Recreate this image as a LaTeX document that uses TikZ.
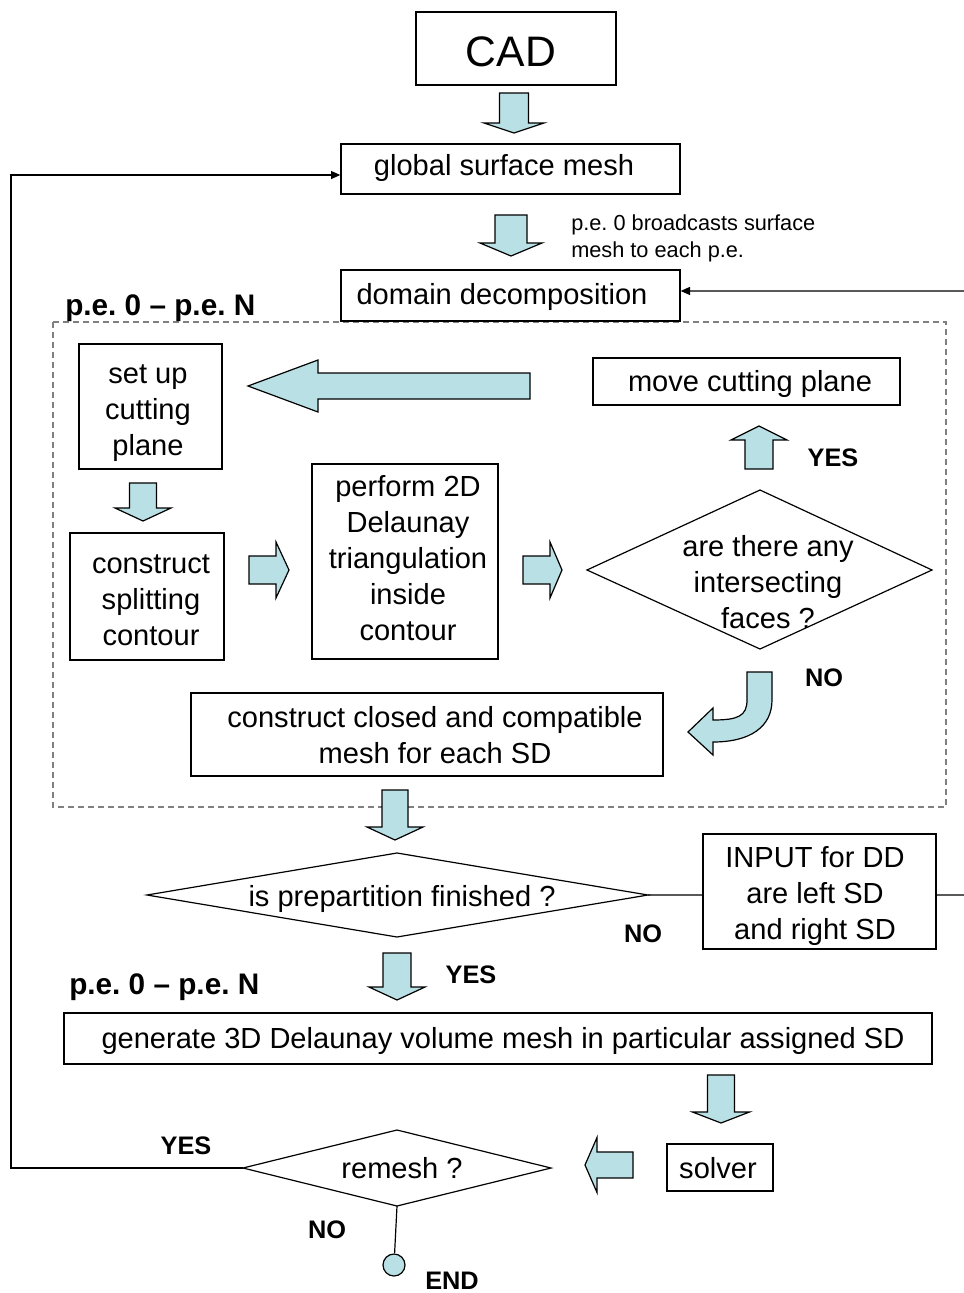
\documentclass[tikz,border=0pt]{standalone}
\usepackage{fontspec}
\setmainfont{Liberation Sans}
\usetikzlibrary{arrows.meta}
\definecolor{ablue}{RGB}{185,224,228}
\frenchspacing
\tikzset{
  box/.style={draw=black, line width=1pt, inner sep=0pt},
  txt/.style={inner sep=0pt, align=center, font=\fontsize{21.8}{27}\selectfont},
  lbl/.style={inner sep=0pt, font=\bfseries\fontsize{19}{22}\selectfont},
  pelbl/.style={inner sep=0pt, anchor=west, font=\bfseries\fontsize{22.3}{25}\selectfont},
  blk/.style={draw=black, line width=0.9pt, fill=ablue, line join=miter},
  fb/.style={draw=black, line width=0.9pt},
  tipa/.style={-{Triangle[length=7pt,width=6pt]}},
  dia/.style={draw=black, line width=0.9pt},
}
% down arrow: cx, top, base, tip, shaft half, head half
\newcommand\DArr[6]{\draw[blk] (#1-#5,#2) -- (#1+#5,#2) -- (#1+#5,#3) -- (#1+#6,#3) -- (#1,#4) -- (#1-#6,#3) -- (#1-#5,#3) -- cycle;}
% horizontal arrow: cy, start, base, tip, shaft half, head half
\newcommand\HArr[6]{\draw[blk] (#2,#1-#5) -- (#3,#1-#5) -- (#3,#1-#6) -- (#4,#1) -- (#3,#1+#6) -- (#3,#1+#5) -- (#2,#1+#5) -- cycle;}
\begin{document}
\begin{tikzpicture}[x=0.75pt,y=-0.75pt]
\useasboundingbox (0,0) rectangle (964,1293);

% dashed region
\draw[gray, line width=0.9pt, dash pattern=on 4.5pt off 3pt] (53,322) rectangle (946,807);

% boxes
\node[box, minimum width=150pt, minimum height=54.75pt] (cad) at (516,48.5) {};
\node[txt, font=\fontsize{32}{38}\selectfont] (cadt) at (511,52) {CAD};
\node[box, minimum width=254.25pt, minimum height=37.5pt] (gsm) at (510.5,169) {};
\node[txt] (gsmt) at (504,168) {global surface mesh};
\node[box, minimum width=254.25pt, minimum height=38.25pt] (dd) at (510.5,295.5) {};
\node[txt] (ddt) at (502,297) {domain decomposition};
\node[box, minimum width=107.25pt, minimum height=93.75pt] (setup) at (150.5,406.5) {};
\node[txt] (setupt) at (148,413) {set up\\cutting\\plane};
\node[box, minimum width=230.25pt, minimum height=35.25pt] (move) at (746.5,381.5) {};
\node[txt] (movet) at (750,384) {move cutting plane};
\node[box, minimum width=115.5pt, minimum height=95.25pt] (split) at (147,596.5) {};
\node[txt] (splitt) at (151,600.5) {construct\\splitting\\contour};
\node[box, minimum width=139.5pt, minimum height=146.25pt] (perf) at (405,561.5) {};
\node[txt] (perft) at (408,558.5) {perform 2D\\Delaunay\\triangulation\\inside\\contour};
\node[box, minimum width=354pt, minimum height=62.25pt] (closed) at (427,734.5) {};
\node[txt] (closedt) at (435,735) {construct closed and compatible\\mesh for each SD};
\node[box, minimum width=174.75pt, minimum height=86.25pt] (inp) at (819.5,891.5) {};
\node[txt] (inpt) at (815,896) {INPUT for DD\\are left SD\\and right SD};
\node[box, minimum width=651pt, minimum height=38.25pt] (gen) at (498,1038.5) {};
\node[txt] (gent) at (503,1041) {generate 3D Delaunay volume mesh in particular assigned SD};
\node[box, minimum width=79.5pt, minimum height=35.25pt] (solver) at (720,1167.5) {};
\node[txt] (solvert) at (718,1168.5) {solver};

% diamonds
\coordinate (q1l) at (587,570); \coordinate (q1t) at (760,490); \coordinate (q1r) at (932,570); \coordinate (q1b) at (760,649);
\draw[dia] (q1l) -- (q1t) -- (q1r) -- (q1b) -- cycle;
\node[txt] (q1) at (768,582) {are there any\\intersecting\\faces ?};

\coordinate (q2l) at (147,895); \coordinate (q2t) at (397,853); \coordinate (q2r) at (648,895); \coordinate (q2b) at (397,937);
\draw[dia] (q2l) -- (q2t) -- (q2r) -- (q2b) -- cycle;
\node[txt] (q2) at (402,899) {is prepartition finished ?};

\coordinate (q3l) at (243,1168); \coordinate (q3t) at (397,1130); \coordinate (q3r) at (551,1168); \coordinate (q3b) at (397,1206);
\draw[dia] (q3l) -- (q3t) -- (q3r) -- (q3b) -- cycle;
\node[txt] (q3) at (402,1168.5) {remesh ?};

% end circle
\node[circle, draw=black, line width=0.9pt, fill=ablue, minimum size=16.5pt, inner sep=0pt] (endc) at (394,1265) {};
\draw[fb] (q3b) -- (endc);

% texts
\node[inner sep=0pt, anchor=west, align=left, font=\fontsize{16.3}{20.5}\selectfont] (bc) at (571,238.5) {p.e. 0 broadcasts surface\\mesh to each p.e.};
\node[pelbl] (pe1) at (65,308) {p.e. 0 -- p.e. N};
\node[pelbl] (pe2) at (69,987) {p.e. 0 -- p.e. N};
\node[lbl] (yes1) at (833,458) {YES};
\node[lbl] (no1) at (824,678) {NO};
\node[lbl] (no2) at (643,934) {NO};
\node[lbl] (yes2) at (471,975) {YES};
\node[lbl] (yes3) at (186,1146) {YES};
\node[lbl] (no3) at (327,1230) {NO};
\node[lbl] (endl) at (452,1281) {END};

% block arrows
\DArr{514}{93}{123}{133}{14.5}{30}
\DArr{511}{215}{243}{256}{16}{31}
\HArr{386}{530}{318}{248}{13}{26}
\DArr{759}{469}{440}{426}{14}{28}
\DArr{143}{483}{508}{521}{13.5}{28}
\HArr{570}{249}{276}{289}{14}{28}
\HArr{570}{523}{550}{562}{14}{28}
\DArr{395}{790}{827}{840}{13}{28}
\DArr{397}{953}{987}{1000}{14}{28}
\DArr{721}{1075}{1112}{1123}{13.5}{28.5}
\HArr{1165}{633}{597}{585}{13}{27.5}

% curved arrow
\draw[blk] (747,672) -- (772,672) -- (772,700)
  .. controls (772,727) and (750,742) .. (713,742)
  -- (713,755) -- (688,732) -- (713,708) -- (713,720)
  .. controls (738,720) and (747,716) .. (747,700) -- cycle;

% connectors
\draw[fb] (q2r) -- ([yshift=-2.6pt]inp.west);
\draw[fb, tipa] ([yshift=-2.6pt]inp.east) -- (968,895) -- (968,291) -- ([yshift=3.4pt]dd.east);
\draw[fb, tipa] (q3l) -- (11,1168) -- (11,175) -- ([yshift=-4.5pt]gsm.west);

\end{tikzpicture}
\end{document}
